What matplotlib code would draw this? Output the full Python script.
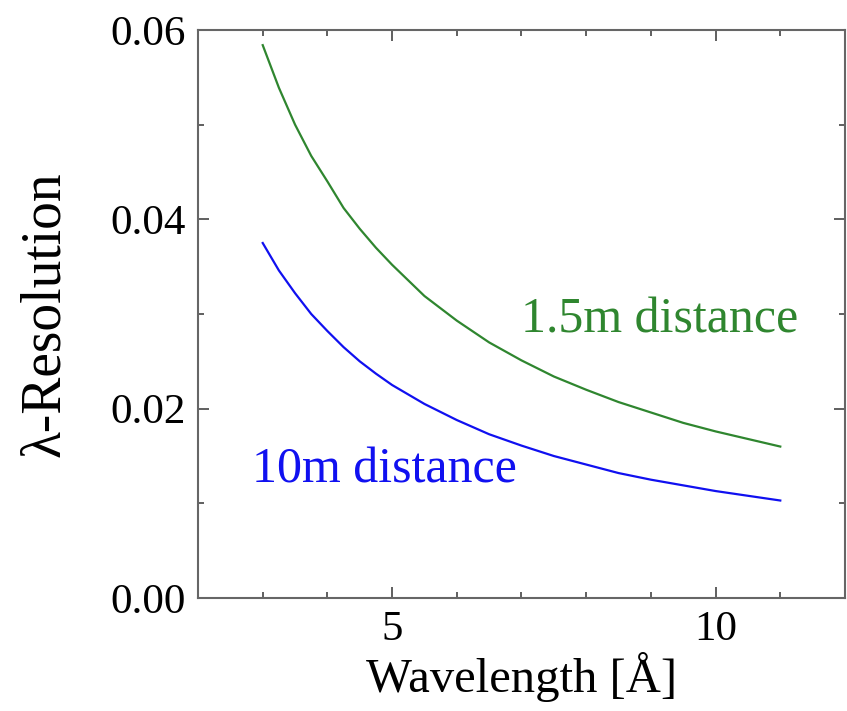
import numpy as np
import matplotlib.pyplot as plt
import matplotlib as mpl
from matplotlib.ticker import MultipleLocator

mpl.rcParams['font.family'] = ['Liberation Serif', 'DejaVu Serif']
mpl.rcParams['xtick.direction'] = 'in'
mpl.rcParams['ytick.direction'] = 'in'

# values
wavelength = [3.0, 3.25, 3.5, 3.75, 4.0, 4.25, 4.5, 4.75, 5.0, 5.5, 6.0, 6.5, 7.0,
              7.5, 8.0, 8.5, 9.0, 9.5, 10.0, 10.5, 11.0]
res_1p5m = [0.0584, 0.0539, 0.0500, 0.0467, 0.0440, 0.0412, 0.0390, 0.0370, 0.0352,
            0.0319, 0.0293, 0.0270, 0.0251, 0.0234, 0.0220, 0.0207, 0.0196, 0.0185,
            0.0176, 0.0168, 0.0160]
res_10m = [0.0375, 0.0346, 0.0322, 0.0300, 0.0282, 0.0265, 0.0250, 0.0237, 0.0225,
           0.0205, 0.0188, 0.0173, 0.0161, 0.0150, 0.0141, 0.0132, 0.0125, 0.0119,
           0.0113, 0.0108, 0.0103]

green = '#2f862f'
blue = '#1010f0'

fig = plt.figure(figsize=(8.47, 7.11), dpi=100)
ax = fig.add_axes([0.2338, 0.1589, 0.7638, 0.7989])

ax.plot(wavelength, res_1p5m, color=green, linewidth=1.6)
ax.plot(wavelength, res_10m, color=blue, linewidth=1.6)

ax.text(7.0, 0.028, '1.5m distance', color=green, fontsize=36)
ax.text(2.83, 0.01215, '10m distance', color=blue, fontsize=36)

ax.set_xlim(2, 12)
ax.set_ylim(0, 0.06)
ax.xaxis.set_major_locator(MultipleLocator(5))
ax.xaxis.set_minor_locator(MultipleLocator(1))
ax.yaxis.set_major_locator(MultipleLocator(0.02))
ax.yaxis.set_minor_locator(MultipleLocator(0.01))
ax.yaxis.set_major_formatter(mpl.ticker.FormatStrFormatter('%.2f'))
ax.tick_params(which='both', top=True, right=True, color='#444444', width=1.2)
ax.tick_params(which='major', length=8, labelsize=31, pad=9)
ax.tick_params(which='minor', length=4)
for s in ax.spines.values():
    s.set_color('#666666')
    s.set_linewidth(1.5)

ax.set_xlabel('Wavelength [Å]', fontsize=35, labelpad=2)
ax.set_ylabel('λ-Resolution', fontsize=40, labelpad=28)

plt.savefig('out.png', dpi=100)
